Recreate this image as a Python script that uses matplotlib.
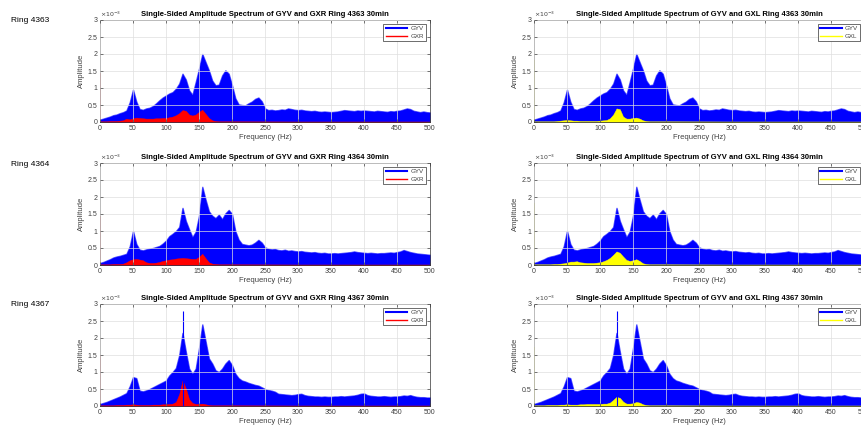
import matplotlib
matplotlib.use("Agg")
import matplotlib.pyplot as plt
from matplotlib.lines import Line2D
from matplotlib.ticker import FormatStrFormatter
import numpy as np

plt.rcParams['font.family'] = ['Liberation Sans', 'DejaVu Sans']

# frequency grid (Hz) for the vertical channel, 5 Hz steps
freq = np.arange(0, 505, 5)
# frequency grid for the lateral channels (flat beyond 180 Hz)
gx_freq = np.r_[np.arange(0, 185, 5), 200, 300, 400, 500]

rings = ['4363', '4364', '4367']

# amplitudes in units of 1e-3
gyv = {
    '4363': [0.07, 0.10, 0.13, 0.16, 0.20, 0.22, 0.26, 0.29, 0.34, 0.58,
             0.95, 0.60, 0.38, 0.36, 0.40, 0.42, 0.47, 0.55, 0.64, 0.72,
             0.78, 0.84, 0.88, 0.98, 1.13, 1.42, 1.25, 0.93, 0.80, 1.18,
             1.57, 2.00, 1.76, 1.52, 1.22, 1.08, 1.10, 1.37, 1.52, 1.42,
             1.08, 0.70, 0.52, 0.50, 0.49, 0.55, 0.60, 0.68, 0.72, 0.61,
             0.40, 0.35, 0.36, 0.34, 0.35, 0.37, 0.36, 0.40, 0.38, 0.36,
             0.35, 0.36, 0.34, 0.33, 0.32, 0.33, 0.31, 0.30, 0.31, 0.30,
             0.29, 0.30, 0.31, 0.33, 0.35, 0.34, 0.33, 0.32, 0.34, 0.33,
             0.34, 0.33, 0.32, 0.31, 0.33, 0.32, 0.31, 0.30, 0.32, 0.31,
             0.33, 0.34, 0.37, 0.40, 0.38, 0.33, 0.31, 0.29, 0.31, 0.29,
             0.28],
    '4364': [0.06, 0.09, 0.13, 0.17, 0.22, 0.25, 0.27, 0.30, 0.33, 0.55,
             1.00, 0.62, 0.45, 0.43, 0.46, 0.48, 0.50, 0.53, 0.56, 0.63,
             0.72, 0.85, 0.92, 1.00, 1.12, 1.68, 1.30, 1.05, 0.82, 0.98,
             1.45, 2.30, 1.92, 1.58, 1.45, 1.38, 1.48, 1.35, 1.52, 1.62,
             1.50, 1.00, 0.75, 0.62, 0.60, 0.58, 0.60, 0.66, 0.74, 0.66,
             0.52, 0.48, 0.46, 0.47, 0.44, 0.43, 0.45, 0.42, 0.43, 0.41,
             0.40, 0.41, 0.39, 0.38, 0.37, 0.38, 0.36, 0.35, 0.36, 0.34,
             0.34, 0.35, 0.34, 0.35, 0.36, 0.37, 0.38, 0.40, 0.38, 0.37,
             0.36, 0.35, 0.36, 0.35, 0.34, 0.35, 0.35, 0.36, 0.37, 0.36,
             0.38, 0.40, 0.44, 0.41, 0.38, 0.36, 0.34, 0.33, 0.32, 0.31,
             0.30],
    '4367': [0.06, 0.09, 0.12, 0.16, 0.20, 0.24, 0.28, 0.33, 0.38, 0.58,
             0.85, 0.82, 0.45, 0.43, 0.46, 0.50, 0.55, 0.60, 0.65, 0.70,
             0.75, 0.90, 1.00, 1.12, 1.50, 2.15, 1.60, 1.10, 0.95, 1.10,
             1.70, 2.40, 1.90, 1.40, 1.25, 1.05, 1.00, 1.10, 1.25, 1.35,
             1.20, 0.95, 0.82, 0.75, 0.72, 0.68, 0.65, 0.62, 0.60, 0.55,
             0.50, 0.47, 0.45, 0.42, 0.36, 0.35, 0.34, 0.33, 0.32, 0.33,
             0.35, 0.36, 0.32, 0.30, 0.29, 0.28, 0.28, 0.27, 0.28, 0.27,
             0.27, 0.28, 0.28, 0.29, 0.28, 0.29, 0.30, 0.31, 0.33, 0.36,
             0.37, 0.32, 0.30, 0.29, 0.28, 0.28, 0.29, 0.28, 0.27, 0.28,
             0.28, 0.29, 0.31, 0.30, 0.32, 0.29, 0.27, 0.26, 0.26, 0.25,
             0.25],
}

# narrow spikes standing above the GYV envelope
gyv_spike_freq = {'4363': [], '4364': [], '4367': [126]}
gyv_spike_amp = {'4363': [], '4364': [], '4367': [2.80]}

gxr = {
    '4363': [0.02, 0.02, 0.02, 0.03, 0.03, 0.03, 0.04, 0.05, 0.10, 0.08,
             0.11, 0.13, 0.12, 0.11, 0.10, 0.10, 0.10, 0.11, 0.11, 0.12,
             0.12, 0.14, 0.16, 0.20, 0.26, 0.35, 0.33, 0.22, 0.19, 0.22,
             0.30, 0.36, 0.24, 0.12, 0.05, 0.03, 0.02, 0.02, 0.015, 0.015,
             0.015],
    '4364': [0.02, 0.02, 0.02, 0.02, 0.03, 0.03, 0.03, 0.04, 0.08, 0.14,
             0.17, 0.18, 0.16, 0.14, 0.08, 0.06, 0.06, 0.07, 0.09, 0.12,
             0.14, 0.16, 0.17, 0.19, 0.20, 0.21, 0.20, 0.19, 0.18, 0.18,
             0.24, 0.33, 0.20, 0.08, 0.04, 0.03, 0.02, 0.02, 0.015, 0.015,
             0.015],
    '4367': [0.02, 0.02, 0.02, 0.02, 0.02, 0.03, 0.03, 0.03, 0.04, 0.04,
             0.05, 0.04, 0.03, 0.03, 0.03, 0.03, 0.04, 0.04, 0.04, 0.05,
             0.05, 0.06, 0.07, 0.12, 0.35, 0.75, 0.52, 0.20, 0.09, 0.06,
             0.06, 0.07, 0.05, 0.03, 0.02, 0.02, 0.02, 0.02, 0.015, 0.015,
             0.015],
}
gxl = {
    '4363': [0.02, 0.02, 0.02, 0.02, 0.02, 0.02, 0.02, 0.03, 0.04, 0.05,
             0.06, 0.05, 0.04, 0.04, 0.03, 0.03, 0.03, 0.03, 0.03, 0.03,
             0.04, 0.05, 0.06, 0.11, 0.22, 0.40, 0.38, 0.16, 0.10, 0.10,
             0.12, 0.13, 0.10, 0.05, 0.03, 0.02, 0.02, 0.02, 0.015, 0.015,
             0.015],
    '4364': [0.02, 0.02, 0.02, 0.02, 0.02, 0.02, 0.03, 0.03, 0.04, 0.05,
             0.07, 0.10, 0.10, 0.11, 0.08, 0.07, 0.06, 0.06, 0.06, 0.07,
             0.08, 0.11, 0.15, 0.21, 0.30, 0.40, 0.36, 0.25, 0.15, 0.12,
             0.14, 0.17, 0.12, 0.05, 0.03, 0.02, 0.02, 0.02, 0.015, 0.015,
             0.015],
    '4367': [0.02, 0.02, 0.02, 0.02, 0.03, 0.03, 0.03, 0.03, 0.04, 0.04,
             0.05, 0.04, 0.04, 0.04, 0.05, 0.05, 0.06, 0.06, 0.06, 0.06,
             0.06, 0.07, 0.07, 0.10, 0.18, 0.27, 0.24, 0.13, 0.07, 0.07,
             0.08, 0.12, 0.10, 0.05, 0.03, 0.02, 0.02, 0.02, 0.015, 0.015,
             0.015],
}
# value at 0 Hz (DC spike) of the lateral channels
gxr_dc = {'4363': 1.45, '4364': 1.45, '4367': 1.50}
gxl_dc = {'4363': 1.82, '4364': 1.82, '4367': 1.75}

xticks = np.arange(0, 550, 50)
yticks = [0, 0.5, 1, 1.5, 2, 2.5, 3]

W, H = 862, 432
fig = plt.figure(figsize=(W / 100, H / 100), dpi=100)
fig.patch.set_facecolor('white')

col_left = [100, 534]
ax_w = 330
row_top = [20, 163, 304]
ax_h = 102

txt_col = '#404040'

for r, ring in enumerate(rings):
    fig.text(11 / W, 1 - (row_top[r] + 1) / H, 'Ring ' + ring, fontsize=6,
             va='center', ha='left', color='black')
    for c, (name, vals, dc, colr) in enumerate([('GXR', gxr, gxr_dc, 'red'),
                                               ('GXL', gxl, gxl_dc, 'yellow')]):
        ax = fig.add_axes([col_left[c] / W, 1 - (row_top[r] + ax_h) / H,
                           ax_w / W, ax_h / H])
        # light fringe around the dense spectrum, then the solid body
        ax.fill_between(freq, 0, gyv[ring], facecolor='blue',
                        edgecolor='#5c5cff', lw=1.0)
        ax.fill_between(freq, 0, gyv[ring], color='blue', lw=0)
        if gyv_spike_freq[ring]:
            ax.vlines(gyv_spike_freq[ring], 0, gyv_spike_amp[ring],
                      color='blue', lw=0.8)
        ax.fill_between(gx_freq, 0, vals[ring], color=colr, lw=0.3)
        ax.vlines(0, 0, dc[ring], color=colr, lw=1.2)

        ax.set_xlim(0, 500)
        ax.set_ylim(0, 3)
        ax.set_xticks(xticks)
        ax.set_yticks(yticks)
        ax.yaxis.set_major_formatter(FormatStrFormatter('%g'))
        ax.grid(True, color='#dedede', lw=0.5)
        ax.set_axisbelow(False)
        for ln in ax.get_xgridlines() + ax.get_ygridlines():
            ln.set_zorder(0.5)
        ax.tick_params(direction='in', top=True, right=True, length=2,
                       width=0.5, labelsize=5, colors=txt_col, pad=2)
        for s in ax.spines.values():
            s.set_color('#333333')
            s.set_linewidth(0.5)
        ax.text(0.0, 1.01, r'$\times10^{-3}$', transform=ax.transAxes,
                fontsize=4.5, color=txt_col, ha='left', va='bottom')
        ax.set_xlabel('Frequency (Hz)', fontsize=5.5, color=txt_col, labelpad=1.5)
        ax.set_ylabel('Amplitude', fontsize=5.5, color=txt_col, labelpad=1.5)
        ax.set_title('Single-Sided Amplitude Spectrum of GYV and %s Ring %s 30min'
                     % (name, ring), fontsize=5.5, fontweight='bold', pad=3)

        handles = [Line2D([], [], color='blue', lw=1.5),
                   Line2D([], [], color=colr, lw=1.0)]
        leg = ax.legend(handles, ['GYV', name], loc='upper right', fontsize=4.5,
                        fancybox=False, framealpha=1, edgecolor='#333333',
                        borderpad=0.35, handlelength=3.5, handletextpad=0.5,
                        labelspacing=0.35, borderaxespad=0.6)
        leg.get_frame().set_linewidth(0.5)
        for t in leg.get_texts():
            t.set_color(txt_col)

fig.savefig('out.png', dpi=100, facecolor='white')
